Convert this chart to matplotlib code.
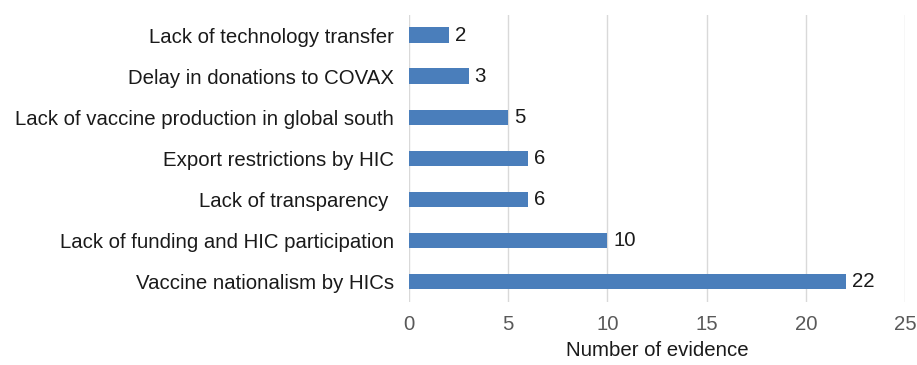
import matplotlib.pyplot as plt

categories = ['Lack of technology transfer', 'Delay in donations to COVAX',
              'Lack of vaccine production in global south', 'Export restrictions by HIC',
              'Lack of transparency ', 'Lack of funding and HIC participation',
              'Vaccine nationalism by HICs']
counts = [2, 3, 5, 6, 6, 10, 22]

plt.rcParams['font.family'] = ['Liberation Sans', 'DejaVu Sans']
fs = 14.7

fig = plt.figure(figsize=(9.17, 3.65), dpi=100)
ax = fig.add_axes([0.446, 0.172, 0.541, 0.788])

pos = list(range(len(categories)))
ax.barh(pos, counts, height=0.38, color='#4a7ebb', zorder=3)
for p, c in zip(pos, counts):
    ax.text(c + 0.3, p, str(c), va='center', ha='left', fontsize=fs, color='#1a1a1a')

ax.set_yticks(pos)
ax.set_yticklabels(categories, fontsize=fs, color='#1a1a1a')
ax.set_ylim(len(categories) - 0.5, -0.5)
ax.set_xlim(0, 25)
ax.set_xticks([0, 5, 10, 15, 20, 25])
ax.tick_params(axis='x', labelsize=fs, labelcolor='#595959', length=0, pad=9)
ax.tick_params(axis='y', length=0, pad=11)
ax.grid(axis='x', color='#d9d9d9', linewidth=1, zorder=0)
for s in ax.spines.values():
    s.set_visible(False)
ax.set_xlabel('Number of evidence', fontsize=fs, color='#1a1a1a', labelpad=5)

fig.savefig('out.png', dpi=100)
